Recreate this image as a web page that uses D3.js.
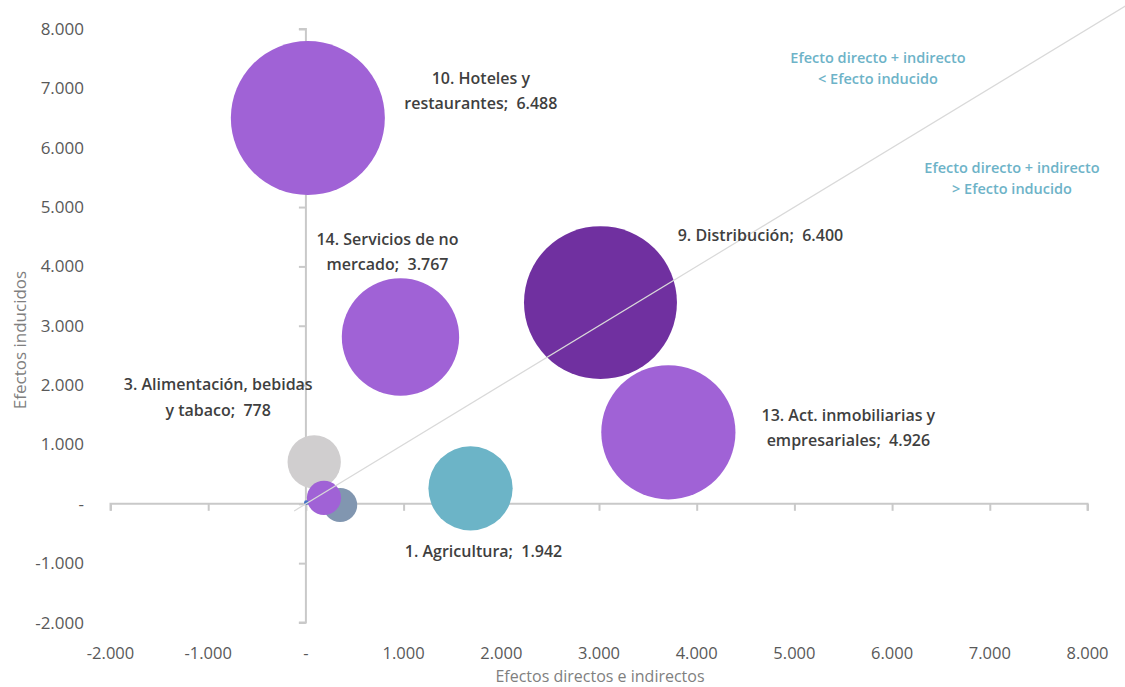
<!DOCTYPE html>
<html>
<head>
<meta charset="utf-8">
<script src="https://cdn.jsdelivr.net/npm/d3@7"></script>
<style>
  body { margin: 0; background: #fff; }
  svg { display: block; font-family: "Open Sans", "Noto Sans", sans-serif; }
  text { white-space: pre; }
</style>
</head>
<body>
<svg id="chart" width="1125" height="687"></svg>
<script>
// sectors: label lines, direct+indirect effect (x), induced effect (y), total (bubble size)
var names = [
    ["10. Hoteles y", "restaurantes;  6.488"],
    ["9. Distribución;  6.400"],
    ["13. Act. inmobiliarias y", "empresariales;  4.926"],
    ["14. Servicios de no", "mercado;  3.767"],
    ["1. Agricultura;  1.942"],
    ["3. Alimentación, bebidas", "y tabaco;  778"],
    [],
    [],
    []
];
var directos = [20, 3015, 3710, 968, 1685, 85, 350, 185, 5];
var inducidos = [6500, 3390, 1205, 2810, 260, 705, -20, 100, 20];
var totales = [6488, 6400, 4926, 3767, 1942, 778, 320, 320, 6];
var colores = ["#a062d6", "#7030a0", "#a062d6", "#a062d6", "#6cb4c7", "#d0cecf", "#8196b0", "#a062d6", "#4472c4"];

var xTicks = [-2000, -1000, 0, 1000, 2000, 3000, 4000, 5000, 6000, 7000, 8000];
var yTicks = [-2000, -1000, 0, 1000, 2000, 3000, 4000, 5000, 6000, 7000, 8000];

// label offsets from bubble centre (pixels)
var labelOffset = [[173, -28], [160, -68], [180, -5], [-13, -86], [13, 63], [-96, -65]];

var svg = d3.select("#chart");

var x = d3.scaleLinear().domain([-2000, 8000]).range([110.5, 1087.5]);
var y = d3.scaleLinear().domain([-2000, 8000]).range([622.5, 29]);
var r = d3.scaleSqrt().domain([0, 6488]).range([0, 77]);

var es = d3.formatLocale({decimal: ",", thousands: ".", grouping: [3], currency: ["", "€"], minus: "-"});
var fmt = function(d) {
    if (d === 0) return "-";
    return es.format(",d")(d);
};

var axisColor = "#c9c9c9";
var tickText = "#595959";

// x axis at y = 0
var xAxis = svg.append("g")
    .attr("transform", "translate(0," + y(0) + ")")
    .call(d3.axisBottom(x).tickValues(xTicks).tickSize(7).tickFormat(""));
xAxis.select(".domain").attr("stroke", axisColor).attr("stroke-width", 2)
    .attr("d", "M" + x(-2000) + ",7V0H" + x(8000) + "V7");
xAxis.selectAll(".tick line").attr("stroke", axisColor).attr("stroke-width", 2);

// y axis at x = 0
var yAxis = svg.append("g")
    .attr("transform", "translate(" + x(0) + ",0)")
    .call(d3.axisLeft(y).tickValues(yTicks).tickSize(7).tickFormat(""));
yAxis.select(".domain").attr("stroke", axisColor).attr("stroke-width", 2)
    .attr("d", "M-7," + y(8000) + "H0V" + y(-2000) + "H-7");
yAxis.selectAll(".tick line").attr("stroke", axisColor).attr("stroke-width", 2);

// tick labels on the plot edges
svg.append("g").selectAll("text")
    .data(xTicks)
    .enter()
    .append("text")
    .attr("x", function(d) { return x(d); })
    .attr("y", 659)
    .attr("text-anchor", "middle")
    .attr("fill", tickText)
    .style("font-size", "16.5px")
    .text(fmt);

svg.append("g").selectAll("text")
    .data(yTicks)
    .enter()
    .append("text")
    .attr("x", 84)
    .attr("y", function(d) { return y(d) + 6; })
    .attr("text-anchor", "end")
    .attr("fill", tickText)
    .style("font-size", "17px")
    .text(fmt);

// axis titles
svg.append("text")
    .attr("x", 600)
    .attr("y", 682)
    .attr("text-anchor", "middle")
    .attr("fill", "#7f7f7f")
    .style("font-size", "16px")
    .text("Efectos directos e indirectos");

svg.append("text")
    .attr("transform", "translate(26,340) rotate(-90)")
    .attr("text-anchor", "middle")
    .attr("fill", "#7f7f7f")
    .style("font-size", "17px")
    .text("Efectos inducidos");

// bubbles
var order = d3.range(totales.length);
svg.append("g").selectAll("circle")
    .data(order)
    .enter()
    .append("circle")
    .attr("cx", function(i) { return x(directos[i]); })
    .attr("cy", function(i) { return y(inducidos[i]); })
    .attr("r", function(i) { return r(totales[i]); })
    .attr("fill", function(i) { return colores[i]; });

// diagonal y = x
svg.append("line")
    .attr("x1", x(-120)).attr("y1", y(-120))
    .attr("x2", x(8600)).attr("y2", y(8600))
    .attr("stroke", "#d9d9d9")
    .attr("stroke-width", 1.2);

// bubble labels
var labels = svg.append("g").selectAll("text")
    .data(labelOffset)
    .enter()
    .append("text")
    .attr("text-anchor", "middle")
    .attr("fill", "#3f3f3f")
    .style("font-size", "16px")
    .style("font-weight", 600)
    .attr("x", function(d, i) { return x(directos[i]) + d[0]; })
    .attr("y", function(d, i) { return y(inducidos[i]) + d[1]; });

labels.each(function(d, i) {
    var t = d3.select(this);
    var lines = names[i];
    var cx = x(directos[i]) + d[0];
    lines.forEach(function(line, j) {
        t.append("tspan")
            .attr("x", cx)
            .attr("dy", j === 0 ? (-(lines.length - 1) * 12.5 + 6) : 25.5)
            .text(line);
    });
});

// region notes
var notes = [
    [["Efecto directo + indirecto", "< Efecto inducido"], 878, 63],
    [["Efecto directo + indirecto", "> Efecto inducido"], 1012, 173]
];
notes.forEach(function(n) {
    var t = svg.append("text")
        .attr("text-anchor", "middle")
        .attr("fill", "#6db3c8")
        .style("font-size", "14.5px")
        .style("font-weight", 600);
    n[0].forEach(function(line, j) {
        t.append("tspan")
            .attr("x", n[1])
            .attr("y", n[2] + j * 21)
            .text(line);
    });
});
</script>
</body>
</html>
